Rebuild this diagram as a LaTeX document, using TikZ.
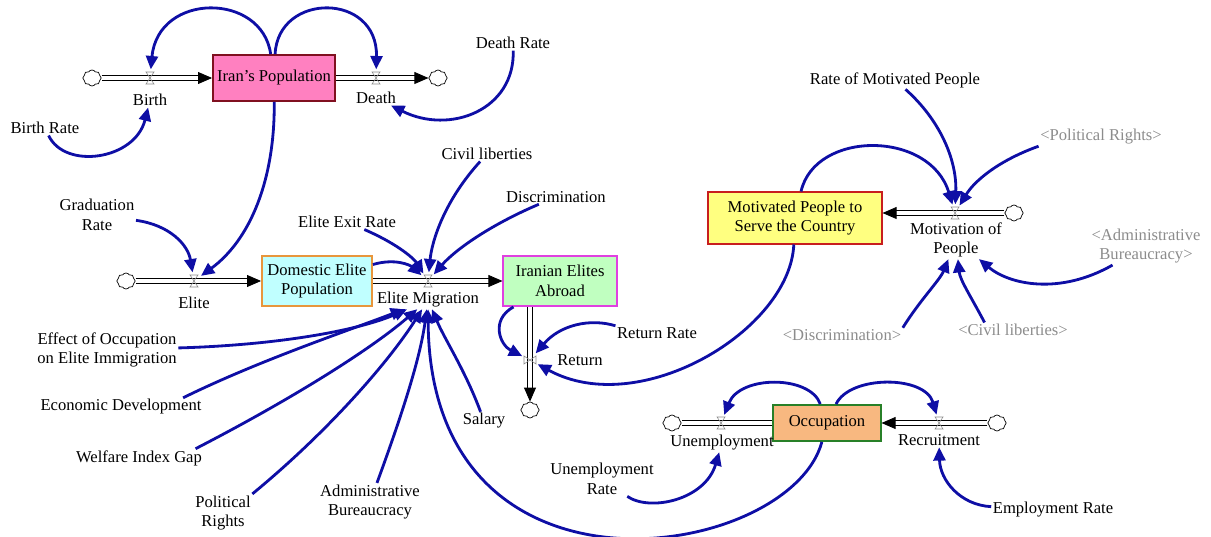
\documentclass[tikz,border=0pt]{standalone}
\usepackage{fontspec}
\setmainfont{Liberation Serif}
\usetikzlibrary{arrows.meta,shapes.symbols}
\definecolor{lnk}{RGB}{14,14,165}
\definecolor{shadow}{RGB}{140,140,140}
\definecolor{popfill}{RGB}{255,128,192}
\definecolor{popdraw}{RGB}{128,16,32}
\definecolor{domfill}{RGB}{192,255,255}
\definecolor{domdraw}{RGB}{232,150,60}
\definecolor{abrfill}{RGB}{192,255,192}
\definecolor{abrdraw}{RGB}{224,64,224}
\definecolor{motfill}{RGB}{255,255,128}
\definecolor{motdraw}{RGB}{200,30,30}
\definecolor{occfill}{RGB}{248,184,128}
\definecolor{occdraw}{RGB}{40,128,40}
\begin{document}
\begin{tikzpicture}[x=0.025cm,y=-0.025cm,
  font=\fontsize{11.8}{14}\selectfont,
  lbl/.style={inner sep=1pt, align=center},
  glbl/.style={lbl, text=shadow},
  stock/.style={draw, line width=1.3pt, align=center, inner sep=2pt},
  valve/.style={circle, inner sep=0pt, minimum size=0.42cm},
  cld/.style={cloud, cloud puffs=8, cloud puff arc=120, draw, fill=white, line width=0.5pt,
              minimum width=0.46cm, minimum height=0.4cm, inner sep=0pt, aspect=1.1},
  pipe/.style={draw=black, line width=0.6pt, double=white, double distance=2.4pt},
  pipearr/.style={pipe, -{Triangle[length=10pt,width=8.5pt]}},
  lk/.style={draw=lnk, line width=2pt, -{Triangle[length=9.5pt,width=8.5pt]}},
  hourglass/.pic={\draw[shadow, line width=0.4pt] (-4,-6) -- (4,-6) -- (-4,6) -- (4,6) -- cycle;},
]
\useasboundingbox (0,0) rectangle (1211,537);

% ---------- stocks ----------
\node[stock, fill=popfill, draw=popdraw, minimum width=3.05cm, minimum height=1.15cm] (pop) at (274,78) {Iran's Population};
\node[stock, fill=domfill, draw=domdraw, minimum width=2.75cm, minimum height=1.25cm] (dom) at (317,281) {Domestic Elite\\Population};
\node[stock, fill=abrfill, draw=abrdraw, minimum width=2.83cm, minimum height=1.25cm] (abr) at (560,281) {Iranian Elites\\Abroad};
\node[stock, fill=motfill, draw=motdraw, minimum width=4.33cm, minimum height=1.28cm] (mot) at (795,218) {Motivated People to\\Serve the Country};
\node[stock, fill=occfill, draw=occdraw, minimum width=2.68cm, minimum height=0.9cm] (occ) at (827,423) {Occupation};

% ---------- valves ----------
\node[valve] (bv) at (150,78) {};
\node[valve] (dv) at (376,78) {};
\node[valve] (ev) at (194,281) {};
\node[valve] (mv) at (428,281) {};
\node[valve] (rv) at (530,360) {};
\node[valve] (pv) at (955,213) {};
\node[valve] (uv) at (721,423) {};
\node[valve] (cv) at (939,423) {};

% ---------- clouds ----------
\node[cld] (c1) at (92,78) {};
\node[cld] (c2) at (438,78) {};
\node[cld] (c3) at (126,281) {};
\node[cld] (c4) at (530,410) {};
\node[cld] (c5) at (1014,213) {};
\node[cld] (c6) at (672,423) {};
\node[cld] (c7) at (997,423) {};

% ---------- pipes ----------
\draw[pipearr] (c1) -- (pop);
\draw[pipearr] (pop) -- (c2);
\draw[pipearr] (c3) -- (dom);
\draw[pipearr] (dom) -- (abr);
\draw[pipearr] (abr.south -| rv) -- (c4);
\draw[pipearr] (c5) -- (c5 -| mot.east);
\draw[pipe] (occ) -- (c6);
\draw[pipearr] (c7) -- (occ);

\pic at (bv) {hourglass};
\pic at (dv) {hourglass};
\pic at (ev) {hourglass};
\pic at (mv) {hourglass};
\pic[rotate=90] at (rv) {hourglass};
\pic at (pv) {hourglass};
\pic at (uv) {hourglass};
\pic at (cv) {hourglass};

% ---------- labels ----------
\node[lbl] (birth) at (150,100) {Birth};
\node[lbl] (death) at (376,98) {Death};
\node[lbl] (birthrate) at (45,128) {Birth Rate};
\node[lbl] (deathrate) at (513,43) {Death Rate};
\node[lbl] (grad) at (97,215) {Graduation\\Rate};
\node[lbl] (elite) at (194,303) {Elite};
\node[lbl] (em) at (428,300) {Elite Migration};
\node[lbl] (exit) at (347,222) {Elite Exit Rate};
\node[lbl] (civil) at (487,154) {Civil liberties};
\node[lbl] (disc) at (556,197) {Discrimination};
\node[lbl] (effect) at (107,350) {Effect of Occupation\\on Elite Immigration};
\node[lbl] (econ) at (121,407) {Economic Development};
\node[lbl] (welf) at (139,458) {Welfare Index Gap};
\node[lbl] (polr) at (223,513) {Political\\Rights};
\node[lbl] (admin) at (370,502) {Administrative\\Bureaucracy};
\node[lbl] (salary) at (484,421) {Salary};
\node[lbl] (ret) at (580,360) {Return};
\node[lbl] (retrate) at (657,333) {Return Rate};
\node[lbl] (motp) at (956,240) {Motivation of\\People};
\node[lbl] (rmp) at (895,80) {Rate of Motivated People};
\node[glbl] (gpol) at (1101,137) {<Political Rights>};
\node[glbl] (gadm) at (1146,246) {<Administrative\\Bureaucracy>};
\node[glbl] (gdisc) at (842,335) {<Discrimination>};
\node[glbl] (gciv) at (1013,330) {<Civil liberties>};
\node[lbl] (unemp) at (722,443) {Unemployment};
\node[lbl] (recr) at (939,440) {Recruitment};
\node[lbl] (unrate) at (602,479) {Unemployment\\Rate};
\node[lbl] (emprate) at (1053,510) {Employment Rate};

% ---------- links ----------
\draw[lk] (birthrate) .. controls (65,170) and (135,160) .. (birth);
\draw[lk] (deathrate) .. controls (515,110) and (450,135) .. (death);
\draw[lk] (pop) .. controls (262,-8) and (158,-8) .. (bv);
\draw[lk] (pop) .. controls (278,-8) and (378,-8) .. (dv);
\draw[lk] (pop) .. controls (275,180) and (250,240) .. (ev);
\draw[lk] (grad) .. controls (170,225) and (188,245) .. (ev);
\draw[lk] (exit) .. controls (400,245) and (415,260) .. (mv);
\draw[lk] (dom) .. controls (395,258) and (410,265) .. (mv);
\draw[lk] (civil) .. controls (445,200) and (432,240) .. (mv);
\draw[lk] (disc) .. controls (490,225) and (455,250) .. (mv);

\draw[lk] (effect) .. controls (280,345) and (360,330) .. (em);
\draw[lk] ([xshift=-0.5cm]econ.north east) .. controls (260,360) and (350,330) .. (em);
\draw[lk] ([xshift=-0.2cm]welf.north east) .. controls (290,400) and (370,350) .. (em);
\draw[lk] (polr.north east) .. controls (330,430) and (390,360) .. (em);
\draw[lk] (admin) .. controls (400,420) and (420,360) .. (em);
\draw[lk] (salary) .. controls (465,370) and (445,340) .. (em);
\draw[lk] (occ) .. controls (790,560) and (430,620) .. (em);

\draw[lk] (abr) .. controls (490,320) and (500,345) .. (rv);
\draw[lk] (retrate.north west) .. controls (590,318) and (560,325) .. (rv);
\draw[lk] (mot) .. controls (790,330) and (640,420) .. (rv);

\draw[lk] (occ) .. controls (810,375) and (740,375) .. (uv);
\draw[lk] (occ) .. controls (850,375) and (925,375) .. (cv);
\draw[lk] (unrate) .. controls (650,512) and (705,500) .. (unemp);
\draw[lk] (emprate) .. controls (960,505) and (940,480) .. (recr);

\draw[lk] (rmp) .. controls (940,120) and (957,160) .. (pv);
\draw[lk] (gpol.south west) .. controls (1000,160) and (975,180) .. (pv);
\draw[lk] (mot) .. controls (815,130) and (930,130) .. (pv);
\draw[lk] (gadm) .. controls (1060,295) and (1010,285) .. (motp);
\draw[lk] (gdisc.north east) .. controls (920,300) and (940,280) .. (motp);
\draw[lk] ([xshift=0.7cm]gciv.north west) .. controls (970,295) and (960,280) .. (motp);
\end{tikzpicture}
\end{document}
